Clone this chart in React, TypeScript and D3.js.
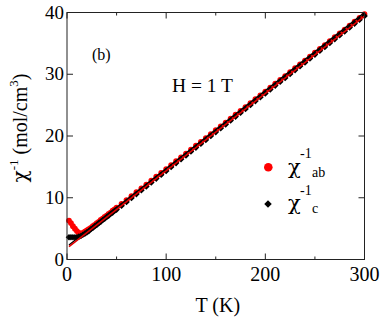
import React from "react";
import * as d3 from "d3";

// chi^-1 (mol/cm^3) vs T (K), H = 1 T
const abT = [
  2, 4, 6, 8, 10, 12, 14, 16, 18, 20, 22, 24, 26, 28, 30, 32, 34, 36, 38, 40, 42, 44, 46, 48,
  50, 55, 60, 65, 70, 75, 80, 85, 90, 95, 100, 105, 110, 115, 120, 125, 130, 135, 140, 145,
  150, 155, 160, 165, 170, 175, 180, 185, 190, 195, 200, 205, 210, 215, 220, 225, 230, 235,
  240, 245, 250, 255, 260, 265, 270, 275, 280, 285, 290, 295, 300,
];
const abV = [
  6.3, 5.9, 5.4, 5.0, 4.6, 4.3, 4.2, 4.3, 4.5, 4.7, 4.9, 5.1, 5.4, 5.6, 5.9, 6.1, 6.4, 6.6,
  6.9, 7.1, 7.4, 7.6, 7.9, 8.1, 8.38, 9.0, 9.63, 10.26, 10.89, 11.51, 12.14, 12.77, 13.4,
  14.02, 14.65, 15.28, 15.91, 16.53, 17.16, 17.79, 18.42, 19.04, 19.67, 20.3, 20.93, 21.55,
  22.18, 22.81, 23.44, 24.06, 24.69, 25.32, 25.95, 26.57, 27.2, 27.83, 28.46, 29.08, 29.71,
  30.34, 30.97, 31.59, 32.22, 32.85, 33.48, 34.1, 34.73, 35.36, 35.99, 36.61, 37.24, 37.87,
  38.5, 39.12, 39.75,
];
const cT = abT;
const cV = [
  3.6, 3.6, 3.6, 3.6, 3.6, 3.7, 3.8, 4.0, 4.2, 4.4, 4.6, 4.9, 5.1, 5.4, 5.6, 5.9, 6.1, 6.4,
  6.6, 6.9, 7.1, 7.4, 7.6, 7.9, 8.08, 8.7, 9.33, 9.96, 10.59, 11.21, 11.84, 12.47, 13.1,
  13.72, 14.35, 14.98, 15.61, 16.23, 16.86, 17.49, 18.12, 18.74, 19.37, 20.0, 20.63, 21.25,
  21.88, 22.51, 23.14, 23.76, 24.39, 25.02, 25.65, 26.27, 26.9, 27.53, 28.16, 28.78, 29.41,
  30.04, 30.67, 31.29, 31.92, 32.55, 33.18, 33.8, 34.43, 35.06, 35.69, 36.31, 36.94, 37.57,
  38.2, 38.82, 39.45,
];
// Curie-Weiss fit lines (endpoints)
const fitAbT = [2, 300];
const fitAbV = [2.1, 39.4];
const fitCT = [2, 300];
const fitCV = [2.35, 40];

const xTicks = [0, 100, 200, 300];
const xMinor = [50, 150, 250];
const yTicks = [0, 10, 20, 30, 40];

const W = 387;
const H = 322;
const font = "'Liberation Serif', 'Times New Roman', serif";
const greek = "'DejaVu Serif', serif";

export default function App() {
  const x = d3.scaleLinear().domain([0, 300]).range([67, 364.5]);
  const y = d3.scaleLinear().domain([0, 40]).range([259.5, 12.5]);
  const [x0, x1] = x.range();
  const [y0, y1] = y.range();

  const fitPath = (ts: number[], vs: number[]) =>
    d3
      .line<number>()
      .x((t) => x(t))
      .y((_, i) => y(vs[i]))(ts) as string;

  const diamond = d3.symbol().type(d3.symbolSquare).size(22)() as string;
  const diamondBig = d3.symbol().type(d3.symbolSquare).size(28)() as string;

  return (
    <svg width={W} height={H} style={{ position: "absolute", left: 0, top: 0, background: "#fff" }} fontFamily={font}>
      {/* data */}
      <g>
        {abT.map((t, i) => (
          <circle key={"a" + i} cx={x(t)} cy={y(abV[i])} r={2.9} fill="#ff0000" />
        ))}
        {cT.map((t, i) => (
          <path key={"c" + i} d={diamond} transform={`translate(${x(t)},${y(cV[i])}) rotate(45)`} fill="#000" />
        ))}
        <path d={fitPath(fitCT, fitCV)} stroke="#000" strokeWidth={1.4} fill="none" />
        <path d={fitPath(fitAbT, fitAbV)} stroke="#e00000" strokeWidth={1.6} fill="none" />
      </g>

      {/* frame */}
      <rect x={x0} y={y1} width={x1 - x0} height={y0 - y1} fill="none" stroke="#222" strokeWidth={1} />

      {/* x ticks */}
      {xTicks.map((t) => (
        <g key={"xt" + t}>
          <line x1={x(t)} x2={x(t)} y1={y0} y2={y0 - 6} stroke="#222" />
          <line x1={x(t)} x2={x(t)} y1={y1} y2={y1 + 6} stroke="#222" />
          <text x={x(t)} y={281} textAnchor="middle" fontSize={20}>
            {t}
          </text>
        </g>
      ))}
      {xMinor.map((t) => (
        <g key={"xm" + t}>
          <line x1={x(t)} x2={x(t)} y1={y0} y2={y0 - 3} stroke="#222" />
          <line x1={x(t)} x2={x(t)} y1={y1} y2={y1 + 3} stroke="#222" />
        </g>
      ))}
      {/* y ticks */}
      {yTicks.map((v) => (
        <g key={"yt" + v}>
          <line x1={x0} x2={x0 + 6} y1={y(v)} y2={y(v)} stroke="#222" />
          <line x1={x1} x2={x1 - 6} y1={y(v)} y2={y(v)} stroke="#222" />
          <text x={64} y={y(v) + 6} textAnchor="end" fontSize={19}>
            {v}
          </text>
        </g>
      ))}

      {/* axis titles */}
      <text x={(x0 + x1) / 2 + 2} y={312} textAnchor="middle" fontSize={20}>
        T (K)
      </text>
      <text transform="translate(27,128) rotate(-90)" textAnchor="middle" fontSize={20}>
        <tspan fontFamily={greek}>χ</tspan>
        <tspan fontSize={13} dy={-9}>-1</tspan>
        <tspan dy={9}> (mol/cm</tspan>
        <tspan fontSize={13} dy={-9}>3</tspan>
        <tspan dy={9}>)</tspan>
      </text>

      {/* annotations */}
      <text x={92} y={60} fontSize={16}>
        (b)
      </text>
      <text x={172} y={92} fontSize={19.5}>
        H = 1 T
      </text>

      {/* legend */}
      <circle cx={268.3} cy={167.3} r={4.3} fill="#ff0000" />
      <text x={288} y={174} fontSize={21} fontFamily={greek}>
        χ
      </text>
      <text x={300} y={158} fontSize={14}>
        -1
      </text>
      <text x={312} y={177} fontSize={14}>
        ab
      </text>
      <path d={diamondBig} transform="translate(268,204) rotate(45)" fill="#000" />
      <text x={288} y={210} fontSize={21} fontFamily={greek}>
        χ
      </text>
      <text x={300} y={195} fontSize={14}>
        -1
      </text>
      <text x={312} y={213} fontSize={14}>
        c
      </text>
    </svg>
  );
}
